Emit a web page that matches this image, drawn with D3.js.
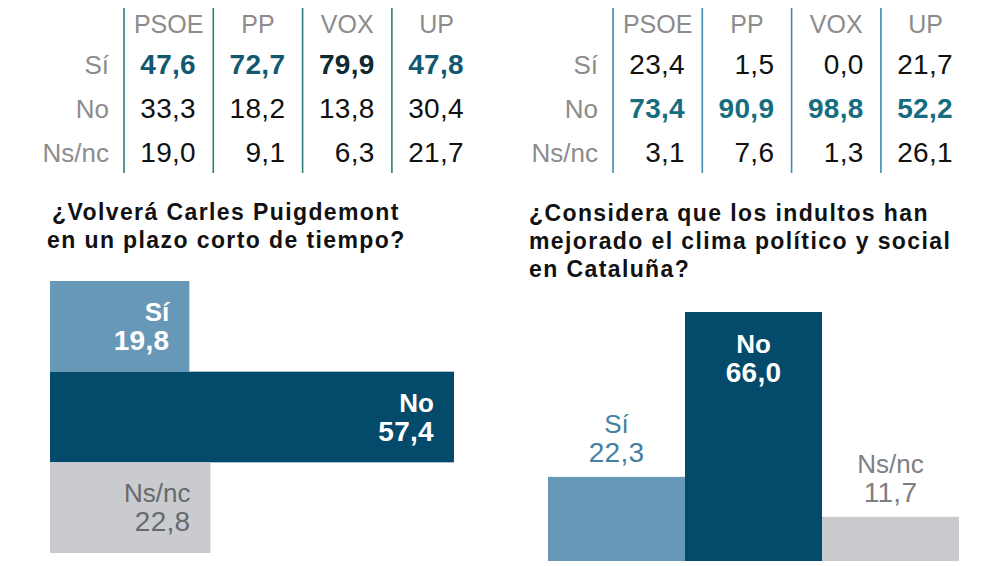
<!DOCTYPE html>
<html>
<head>
<meta charset="utf-8">
<script src="https://cdn.jsdelivr.net/npm/d3@7"></script>
<style>
  html, body { margin: 0; padding: 0; background: #fff; }
  svg { display: block; }
</style>
</head>
<body>
<svg id="chart" width="1006" height="566"></svg>
<script>
// ---------- DATA ----------
const parties = ["PSOE", "PP", "VOX", "UP"];
const answers = ["Sí", "No", "Ns/nc"];

// Table 1 (left)
const table1Si   = [47.6, 72.7, 79.9, 47.8];
const table1No   = [33.3, 18.2, 13.8, 30.4];
const table1Ns   = [19.0, 9.1, 6.3, 21.7];
const table1Bold = "Sí";
const table1DarkBold = ["VOX"];

// Table 2 (right)
const table2Si   = [23.4, 1.5, 0.0, 21.7];
const table2No   = [73.4, 90.9, 98.8, 52.2];
const table2Ns   = [3.1, 7.6, 1.3, 26.1];
const table2Bold = "No";
const table2DarkBold = [];

// Chart 1: ¿Volverá Carles Puigdemont...?
const title1 = ["¿Volverá Carles Puigdemont", "en un plazo corto de tiempo?"];
const chart1Values = [19.8, 57.4, 22.8];

// Chart 2: ¿Considera que los indultos...?
const title2 = ["¿Considera que los indultos han", "mejorado el clima político y social", "en Cataluña?"];
const chart2Values = [22.3, 66.0, 11.7];

// ---------- HELPERS ----------
const fmt = v => d3.format(".1f")(v).replace(".", ",");
const svg = d3.select("#chart");
svg.append("rect").attr("width", 1006).attr("height", 566).attr("fill", "#fff");

const NUM_FONT = "'Liberation Sans', Arial, Helvetica, sans-serif";
const TITLE_FONT = "'Liberation Sans', Arial, sans-serif";

const barColors = { "Sí": "#6798b7", "No": "#034a6b", "Ns/nc": "#c9cbce" };

function drawTable(x0, rows, boldRow, darkBold, lineColor, boldColor) {
  const g = svg.append("g");
  const x = d3.scaleBand().domain(parties).range([x0, x0 + 4 * 89.3]);
  const y = d3.scalePoint().domain(answers).range([74, 162]);

  g.selectAll("line.sep").data(parties).join("line")
    .attr("x1", d => x(d)).attr("x2", d => x(d))
    .attr("y1", 8).attr("y2", 173)
    .attr("stroke", lineColor).attr("stroke-width", 1.6);

  g.selectAll("text.hdr").data(parties).join("text")
    .attr("x", d => x(d) + x.bandwidth() / 2)
    .attr("y", 33)
    .attr("text-anchor", "middle")
    .attr("font-family", NUM_FONT)
    .attr("font-size", 25)
    .attr("fill", "#8c8c8c")
    .text(d => d);

  g.selectAll("text.rl").data(answers).join("text")
    .attr("x", x0 - 15)
    .attr("y", d => y(d))
    .attr("text-anchor", "end")
    .attr("font-family", NUM_FONT)
    .attr("font-size", 26)
    .attr("fill", "#8c8c8c")
    .text(d => d);

  const cells = [];
  answers.forEach((a, i) => {
    rows[i].forEach((v, j) => cells.push({ a, p: parties[j], v }));
  });
  const isBold = d => d.a === boldRow;
  g.selectAll("text.val").data(cells).join("text")
    .attr("x", d => x(d.p) + 72)
    .attr("y", d => y(d.a))
    .attr("text-anchor", "end")
    .attr("font-family", NUM_FONT)
    .attr("font-size", 28)
    .attr("letter-spacing", 0.3)
    .attr("font-weight", d => isBold(d) ? 700 : 400)
    .attr("fill", d => isBold(d) ? (darkBold.includes(d.p) ? "#0f2a32" : boldColor) : "#111")
    .text(d => fmt(d.v));
}

drawTable(124, [table1Si, table1No, table1Ns], table1Bold, table1DarkBold, "#2f7f79", "#12586f");
drawTable(613, [table2Si, table2No, table2Ns], table2Bold, table2DarkBold, "#3f8db0", "#176d80");

// ---------- TITLES ----------
function drawTitle(lines, xs, y0, lh) {
  const g = svg.append("g");
  lines.forEach((l, i) => {
    g.append("text")
      .attr("font-family", TITLE_FONT)
      .attr("font-weight", 700)
      .attr("font-size", 23)
      .attr("letter-spacing", 1.4)
      .attr("fill", "#111")
      .attr("x", xs[i]).attr("y", y0 + i * lh).text(l);
  });
}
drawTitle(title1, [52, 47], 220, 27.5);
drawTitle(title2, [529, 529, 529], 221, 28);

// ---------- CHART 1 (horizontal bars) ----------
{
  const g = svg.append("g");
  const x = d3.scaleLinear().domain([0, 57.4]).range([50, 454]);
  const y = d3.scaleBand().domain(answers).range([281, 553]).padding(0);
  const data = answers.map((a, i) => ({ a, v: chart1Values[i] }));

  g.selectAll("rect").data(data).join("rect")
    .attr("x", x(0))
    .attr("y", d => y(d.a))
    .attr("width", d => x(d.v) - x(0))
    .attr("height", y.bandwidth())
    .attr("fill", d => barColors[d.a]);

  const col = d => d.a === "Ns/nc" ? "#66696d" : "#fff";
  const lab = g.selectAll("g.lab").data(data).join("g");
  lab.append("text")
    .attr("x", d => x(d.v) - 20)
    .attr("y", d => y(d.a) + 40)
    .attr("text-anchor", "end")
    .attr("font-family", NUM_FONT)
    .attr("font-size", 26)
    .attr("font-weight", d => d.a === "Ns/nc" ? 400 : 700)
    .attr("fill", col)
    .text(d => d.a);
  lab.append("text")
    .attr("x", d => x(d.v) - 20)
    .attr("y", d => y(d.a) + 69)
    .attr("text-anchor", "end")
    .attr("font-family", NUM_FONT)
    .attr("font-size", 28)
    .attr("letter-spacing", 0.3)
    .attr("font-weight", d => d.a === "Ns/nc" ? 400 : 700)
    .attr("fill", col)
    .text(d => fmt(d.v));
}

// ---------- CHART 2 (vertical bars) ----------
{
  const g = svg.append("g");
  const x = d3.scaleBand().domain(answers).range([548, 959]).padding(0);
  const y = d3.scaleLinear().domain([0, 66]).range([561, 312]);
  const data = answers.map((a, i) => ({ a, v: chart2Values[i] }));

  g.selectAll("rect").data(data).join("rect")
    .attr("x", d => x(d.a))
    .attr("y", d => y(d.v))
    .attr("width", x.bandwidth())
    .attr("height", d => y(0) - y(d.v))
    .attr("fill", d => barColors[d.a]);

  const inside = d => d.a === "No";
  const col = d => inside(d) ? "#fff" : (d.a === "Sí" ? "#4580a0" : "#7d8084");
  const lab = g.selectAll("g.lab").data(data).join("g");
  lab.append("text")
    .attr("x", d => x(d.a) + x.bandwidth() / 2)
    .attr("y", d => inside(d) ? y(d.v) + 41 : y(d.v) - 44)
    .attr("text-anchor", "middle")
    .attr("font-family", NUM_FONT)
    .attr("font-size", 26)
    .attr("font-weight", d => inside(d) ? 700 : 400)
    .attr("fill", col)
    .text(d => d.a);
  lab.append("text")
    .attr("x", d => x(d.a) + x.bandwidth() / 2)
    .attr("y", d => inside(d) ? y(d.v) + 70 : y(d.v) - 15)
    .attr("text-anchor", "middle")
    .attr("font-family", NUM_FONT)
    .attr("font-size", 28)
    .attr("letter-spacing", 0.3)
    .attr("font-weight", d => inside(d) ? 700 : 400)
    .attr("fill", col)
    .text(d => fmt(d.v));
}
</script>
</body>
</html>
